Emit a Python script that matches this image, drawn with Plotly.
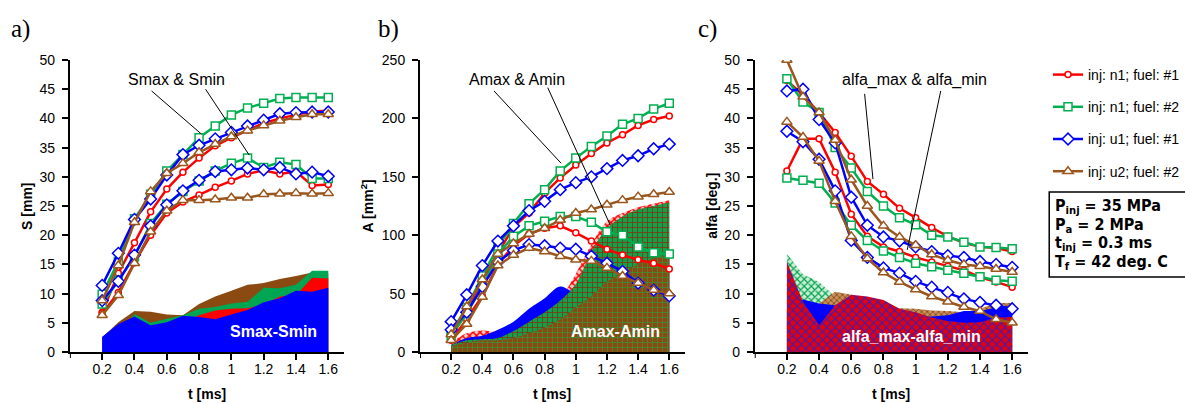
import plotly.graph_objects as go

# ---------------- data ----------------
t = [0.2, 0.3, 0.4, 0.5, 0.6, 0.7, 0.8, 0.9, 1.0, 1.1, 1.2, 1.3, 1.4, 1.5, 1.6]
x_tickvals = [0.2, 0.4, 0.6, 0.8, 1.0, 1.2, 1.4, 1.6]
x_ticktext = ["0.2", "0.4", "0.6", "0.8", "1", "1.2", "1.4", "1.6"]
series_names = ["inj: n1; fuel: #1", "inj: n1; fuel: #2", "inj: u1; fuel: #1", "inj: u2; fuel: #2"]

# panel a: spray tip penetration S [mm]
S_max_n1_f1 = [6.8, 13.5, 18.7, 24.0, 27.9, 30.8, 33.2, 35.3, 36.7, 38.0, 39.2, 40.0, 40.6, 41.2, 41.3]
S_min_n1_f1 = [6.6, 10.2, 15.3, 20.0, 23.8, 25.7, 26.9, 28.2, 29.3, 30.5, 31.1, 30.5, 30.9, 28.5, 28.7]
S_max_n1_f2 = [9.9, 15.5, 22.8, 27.0, 31.0, 33.8, 36.7, 38.7, 40.6, 41.8, 42.6, 43.4, 43.6, 43.6, 43.6]
S_min_n1_f2 = [8.2, 12.3, 16.3, 22.0, 25.3, 27.5, 29.3, 31.0, 32.3, 33.2, 31.6, 32.5, 32.1, 29.7, 29.7]
S_max_u1_f1 = [11.4, 16.9, 22.7, 26.2, 30.3, 33.8, 35.4, 36.5, 37.6, 38.7, 39.7, 40.8, 41.0, 41.1, 41.1]
S_min_u1_f1 = [8.8, 12.1, 16.6, 21.6, 25.2, 27.6, 29.4, 30.9, 31.2, 31.5, 31.2, 31.6, 30.5, 30.8, 30.1]
S_max_u2_f2 = [8.8, 14.8, 22.2, 27.5, 30.6, 32.3, 34.2, 35.6, 36.9, 37.9, 38.8, 39.6, 40.2, 40.7, 40.7]
S_min_u2_f2 = [6.3, 9.7, 15.2, 20.6, 24.2, 26.0, 26.0, 26.1, 26.4, 26.4, 27.0, 27.1, 27.2, 27.1, 27.2]
S_diff_n1_f1 = [0.2, 3.3, 3.4, 4.0, 4.1, 5.1, 6.3, 7.1, 7.4, 7.5, 8.1, 9.5, 9.7, 12.7, 12.6]
S_diff_n1_f2 = [1.7, 3.2, 6.5, 5.0, 5.7, 6.3, 7.4, 7.7, 8.3, 8.6, 11.0, 10.9, 11.5, 13.9, 13.9]
S_diff_u1_f1 = [2.6, 4.8, 6.1, 4.6, 5.1, 6.2, 6.0, 5.6, 6.4, 7.2, 8.5, 9.2, 10.5, 10.3, 11.0]
S_diff_u2_f2 = [2.5, 5.1, 7.0, 6.9, 6.4, 6.3, 8.2, 9.5, 10.5, 11.5, 11.8, 12.5, 13.0, 13.6, 13.5]

# panel b: spray area A [mm2]
A_max_n1_f1 = [13, 35, 62, 85, 107, 119, 136, 149, 160, 170, 179, 186, 194, 199, 202]
A_min_n1_f1 = [10, 28, 48, 75, 91, 101, 106, 108, 102, 95, 88, 83, 79, 76, 71]
A_max_n1_f2 = [17, 38, 65, 90, 110, 127, 139, 155, 166, 176, 185, 195, 200, 208, 213]
A_min_n1_f2 = [14, 33, 56, 84, 99, 108, 112, 116, 116, 111, 103, 100, 90, 85, 84]
A_max_u1_f1 = [26, 49, 74, 95, 108, 121, 129, 139, 145, 150, 157, 164, 168, 174, 178]
A_min_u1_f1 = [19, 34, 56, 77, 87, 92, 91, 89, 88, 82, 76, 69, 59, 53, 48]
A_max_u2_f2 = [15, 39, 62, 84, 93, 101, 106, 113, 119, 122, 126, 130, 133, 135, 137]
A_min_u2_f2 = [10, 24, 47, 74, 83, 89, 86, 82, 79, 78, 72, 65, 59, 53, 50]
A_diff_n1_f1 = [8, 16, 18.5, 17, 18, 22, 30, 45, 67, 92, 112, 119, 124, 127, 130]
A_diff_n1_f2 = [6, 10, 11, 12, 18, 26, 34, 44, 58, 86, 106, 116, 122, 125, 128]
A_diff_u1_f1 = [6, 12, 14, 19, 26, 37, 46, 56, 50, 50, 55, 62, 70, 78, 85]
A_diff_u2_f2 = [5, 8, 10, 10, 12, 16, 21, 28, 38, 48, 60, 68, 75, 80, 83]

# panel c: spray cone angle alfa [deg.]
alfa_max_n1_f1 = [46.5, 44.0, 41.0, 37.6, 33.5, 29.2, 27.0, 24.6, 23.0, 21.3, 19.8, 18.7, 18.0, 17.8, 17.2]
alfa_min_n1_f1 = [31.0, 36.5, 36.5, 30.8, 23.6, 19.8, 18.0, 17.2, 16.2, 15.4, 14.7, 14.0, 12.8, 12.0, 11.1]
alfa_max_n1_f2 = [46.8, 42.8, 41.0, 35.0, 31.5, 27.5, 25.0, 23.0, 21.8, 20.0, 19.7, 18.8, 18.0, 17.9, 17.7]
alfa_min_n1_f2 = [29.8, 29.4, 28.9, 25.5, 21.7, 19.1, 17.3, 16.2, 15.2, 14.6, 14.0, 13.5, 12.9, 12.3, 12.1]
alfa_max_u1_f1 = [44.7, 45.0, 39.8, 35.8, 26.5, 21.7, 19.7, 19.0, 18.0, 17.2, 16.5, 16.2, 15.5, 15.0, 14.5]
alfa_min_u1_f1 = [37.8, 36.0, 33.0, 27.6, 19.1, 16.2, 14.4, 13.5, 12.1, 11.1, 10.2, 9.1, 8.5, 8.0, 7.4]
alfa_max_u2_f2 = [50.0, 43.7, 41.0, 36.3, 29.5, 25.0, 21.6, 19.7, 18.3, 16.7, 15.7, 15.0, 14.7, 14.2, 13.7]
alfa_min_u2_f2 = [39.4, 36.8, 32.7, 25.8, 19.8, 16.0, 13.6, 12.0, 10.7, 9.5, 8.6, 7.7, 7.0, 5.6, 5.0]
alfa_diff_n1_f1 = [15.5, 8.6, 4.6, 8.0, 9.8, 9.5, 8.9, 7.4, 6.8, 5.9, 5.3, 5.0, 5.1, 5.9, 6.0]
alfa_diff_n1_f2 = [16.8, 13.3, 12.0, 9.5, 9.6, 8.4, 7.7, 6.8, 6.6, 5.4, 5.7, 5.3, 5.1, 5.6, 5.6]
alfa_diff_u1_f1 = [6.9, 9.0, 8.3, 8.0, 7.4, 5.5, 5.3, 5.5, 5.9, 6.1, 6.3, 7.0, 7.0, 7.6, 7.6]
alfa_diff_u2_f2 = [10.6, 6.9, 8.3, 10.3, 9.8, 9.0, 8.0, 7.5, 7.4, 7.1, 7.0, 6.8, 7.4, 8.4, 8.4]

# ---------------- styles ----------------
RED, GREEN, BLUE, BROWN = "#FF0000", "#00B050", "#0000FF", "#9A561C"
AREA_BROWN = "#8B4A12"
colors = [RED, GREEN, BLUE, BROWN]
symbols = ["circle", "square", "diamond", "triangle-up"]
msizes = [6, 8, 9, 9]
SANS = "Liberation Sans, Arial, sans-serif"
TICKFONT = dict(family=SANS, size=14, color="black")

fig = go.Figure()


def add_area(xa, ya, y, fillcolor=None, pattern=None, shape="linear"):
    kw = {}
    if pattern is not None:
        kw["fillpattern"] = pattern
    fig.add_trace(go.Scatter(x=t, y=y, xaxis=xa, yaxis=ya, mode="none", fill="tozeroy",
                             fillcolor=fillcolor, line=dict(shape=shape), showlegend=False,
                             hoverinfo="skip", **kw))


def add_line(xa, ya, y, i, legend=False):
    fig.add_trace(go.Scatter(x=t, y=y, xaxis=xa, yaxis=ya, mode="lines+markers",
                             name=series_names[i], legendgroup=series_names[i],
                             showlegend=legend,
                             line=dict(color=colors[i], width=2.5),
                             marker=dict(symbol=symbols[i], size=msizes[i], color="white",
                                         line=dict(color=colors[i], width=1.5))))


# panel a areas (back -> front)
add_area("x", "y", S_diff_u2_f2, AREA_BROWN)
add_area("x", "y", S_diff_n1_f2, "#00A651")
add_area("x", "y", S_diff_n1_f1, RED)
add_area("x", "y", S_diff_u1_f1, BLUE)

# panel b areas
add_area("x2", "y2", A_diff_n1_f1, "white",
         dict(shape="x", fgcolor=RED, bgcolor="#FFC8C8", size=5, solidity=0.5), "spline")
add_area("x2", "y2", A_diff_u1_f1, BLUE, None, "spline")
add_area("x2", "y2", A_diff_n1_f2, "#1E8A3C",
         dict(shape="+", fgcolor="#7A3A10", bgcolor="#13A04A", size=5, solidity=0.3), "spline")
add_area("x2", "y2", A_diff_u2_f2, AREA_BROWN,
         dict(shape="+", fgcolor="#2E9A3A", bgcolor=AREA_BROWN, size=5, solidity=0.25), "spline")

# panel c areas
add_area("x3", "y3", alfa_diff_n1_f2, "#9FDDB0",
         dict(shape="x", fgcolor="#00A050", bgcolor="#C8F0D2", size=5, solidity=0.4))
add_area("x3", "y3", alfa_diff_u2_f2, "#A0622D",
         dict(shape="x", fgcolor="#8B4A12", bgcolor="#C89060", size=4, solidity=0.4))
add_area("x3", "y3", alfa_diff_u1_f1, BLUE)
add_area("x3", "y3", alfa_diff_n1_f1, "#CC0033",
         dict(shape="x", fgcolor="#3020C0", bgcolor="#E00010", size=6, solidity=0.3))

# lines
S_max = [S_max_n1_f1, S_max_n1_f2, S_max_u1_f1, S_max_u2_f2]
S_min = [S_min_n1_f1, S_min_n1_f2, S_min_u1_f1, S_min_u2_f2]
A_max = [A_max_n1_f1, A_max_n1_f2, A_max_u1_f1, A_max_u2_f2]
A_min = [A_min_n1_f1, A_min_n1_f2, A_min_u1_f1, A_min_u2_f2]
al_max = [alfa_max_n1_f1, alfa_max_n1_f2, alfa_max_u1_f1, alfa_max_u2_f2]
al_min = [alfa_min_n1_f1, alfa_min_n1_f2, alfa_min_u1_f1, alfa_min_u2_f2]
for i in range(4):
    add_line("x", "y", S_max[i], i, legend=True)
    add_line("x", "y", S_min[i], i)
    add_line("x2", "y2", A_max[i], i)
    add_line("x2", "y2", A_min[i], i)
    add_line("x3", "y3", al_max[i], i)
    add_line("x3", "y3", al_min[i], i)

# ---------------- axes ----------------
W, H = 1185, 403
ydom = [1 - 352 / H, 1 - 60 / H]
xdoms = [[70 / W, 345 / W], [420.7 / W, 686 / W], [756 / W, 1030 / W]]
yranges = [[0, 50], [0, 250], [0, 50]]
ydticks = [5, 50, 5]

layout = dict(template="none", width=W, height=H, margin=dict(l=0, r=0, t=0, b=0, pad=0),
              autosize=False, font=dict(family=SANS, color="black"),
              plot_bgcolor="white", paper_bgcolor="white", showlegend=True)
for k in range(3):
    sx = "" if k == 0 else str(k + 1)
    layout["xaxis" + sx] = dict(domain=xdoms[k], range=[0, 1.7], anchor="y" + sx,
                                tickvals=x_tickvals, ticktext=x_ticktext, automargin=False,
                                showline=True, linecolor="black", linewidth=2,
                                ticks="outside", ticklen=6, tickwidth=2, tickcolor="black",
                                showgrid=False, zeroline=False, tickfont=TICKFONT,
                                ticklabelstandoff=-3)
    layout["yaxis" + sx] = dict(domain=ydom, range=yranges[k], anchor="x" + sx,
                                dtick=ydticks[k], tick0=0, automargin=False,
                                showline=True, linecolor="black", linewidth=2,
                                ticks="outside", ticklen=6, tickwidth=2, tickcolor="black",
                                showgrid=False, zeroline=False, tickfont=TICKFONT,
                                ticklabelstandoff=4)
fig.update_layout(**layout)

fig.update_layout(legend=dict(x=1050 / W, y=1 - 59 / H, xanchor="left", yanchor="top",
                              font=dict(family=SANS, size=14, color="black"),
                              tracegroupgap=11, itemwidth=30, bgcolor="rgba(0,0,0,0)",
                              borderwidth=0, traceorder="grouped"))

ann = []
shapes = []
# panel labels
for lab, px in [("a)", 21), ("b)", 389), ("c)", 709)]:
    ann.append(dict(text=lab, x=px / W, y=1 - 29 / H, xref="paper", yref="paper",
                    xanchor="center", yanchor="middle", showarrow=False,
                    font=dict(family="Liberation Serif, Times New Roman, serif", size=25, color="black")))
# y titles
for lab, px in [("S [mm]", 27), ("A [mm<sup>2</sup>]", 368), ("alfa [deg.]", 713)]:
    ann.append(dict(text="<b>" + lab + "</b>", x=px / W, y=1 - 206 / H, xref="paper", yref="paper",
                    xanchor="center", yanchor="middle",
                    textangle=-90, showarrow=False, font=dict(family=SANS, size=14, color="black")))
# x titles
for k in range(3):
    cx = (xdoms[k][0] + xdoms[k][1]) / 2
    ann.append(dict(text="<b>t [ms]</b>", x=cx, y=1 - 394 / H, xref="paper", yref="paper",
                    xanchor="center", yanchor="middle",
                    showarrow=False, font=dict(family=SANS, size=14, color="black")))

LBL = dict(family=SANS, size=16, color="black")
ann.append(dict(text="Smax & Smin", x=0.66, y=46.7, xref="x", yref="y", showarrow=False, font=LBL))
ann.append(dict(text="Amax & Amin", x=0.622, y=233.7, xref="x2", yref="y2", showarrow=False, font=LBL))
ann.append(dict(text="alfa_max & alfa_min", x=0.99, y=46.6, xref="x3", yref="y3", showarrow=False, font=LBL))
WL = dict(family=SANS, size=16, color="white")
ann.append(dict(text="<b>Smax-Smin</b>", x=1.26, y=3.5, xref="x", yref="y", showarrow=False, font=WL))
ann.append(dict(text="<b>Amax-Amin</b>", x=1.253, y=17.4, xref="x2", yref="y2", showarrow=False, font=WL))
ann.append(dict(text="<b>alfa_max-alfa_min</b>", x=0.976, y=2.7, xref="x3", yref="y3", showarrow=False, font=WL))

# leader lines
for (xr, yr, x0, y0, x1, y1) in [("x", "y", 0.506, 44.7, 0.815, 37.3),
                                  ("x", "y", 0.840, 45.0, 1.111, 33.7),
                                  ("x2", "y2", 0.475, 223.5, 0.906, 161.6),
                                  ("x2", "y2", 0.820, 226.3, 1.221, 108.7),
                                  ("x3", "y3", 0.683, 44.2, 0.735, 29.6),
                                  ("x3", "y3", 1.156, 44.7, 0.948, 17.5)]:
    shapes.append(dict(type="line", xref=xr, yref=yr, x0=x0, y0=y0, x1=x1, y1=y1,
                       line=dict(color="black", width=1)))

# tick mark at the origin of every time axis
for xr in ["x", "x2", "x3"]:
    shapes.append(dict(type="line", xref=xr, yref="paper", x0=0, x1=0,
                       y0=ydom[0], y1=ydom[0] - 6 / H, line=dict(color="black", width=2)))

# info box
shapes.append(dict(type="rect", xref="paper", yref="paper", x0=1051 / W, x1=1.02,
                   y0=1 - 277 / H, y1=1 - 192 / H, line=dict(color="black", width=1.5),
                   fillcolor="white", layer="below"))
BOXF = dict(family="Liberation Sans Narrow, Arial Narrow, DejaVu Sans Condensed, sans-serif", size=16, color="black")
for txt, py in [("P<sub>inj</sub> = 35 MPa", 206), ("P<sub>a</sub> = 2 MPa", 225),
                ("t<sub>inj</sub> = 0.3 ms", 243), ("T<sub>f</sub> = 42 deg. C", 262)]:
    ann.append(dict(text="<b>" + txt + "</b>", x=1055 / W, y=1 - py / H, xref="paper", yref="paper",
                    xanchor="left", yanchor="middle", showarrow=False, font=BOXF))

fig.update_layout(annotations=ann, shapes=shapes)
fig.write_html("out.html")
